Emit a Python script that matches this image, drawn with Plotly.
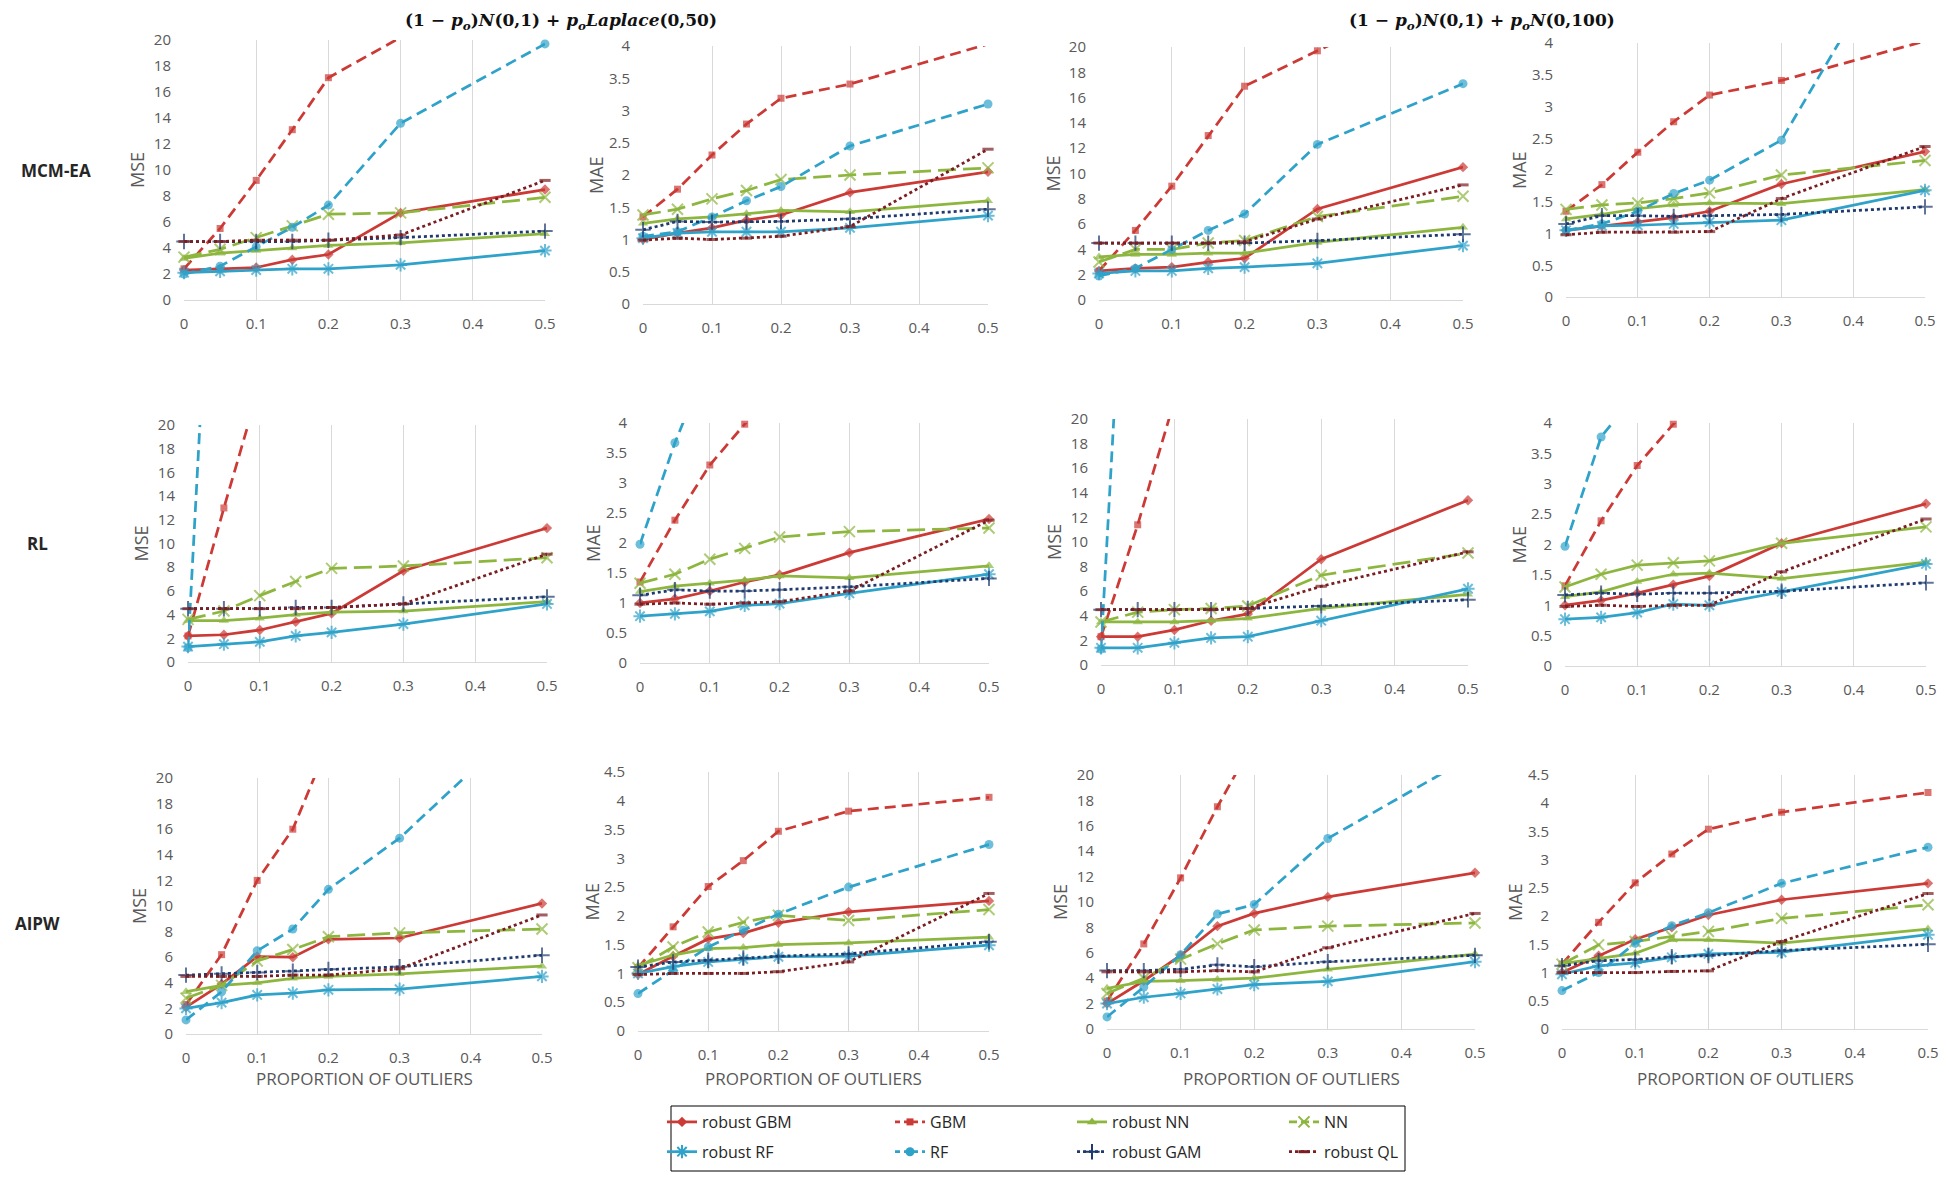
import plotly.graph_objects as go

# ---------------- data ----------------
X = [0, 0.05, 0.1, 0.15, 0.2, 0.3, 0.5]
X_TICKS = [0, 0.1, 0.2, 0.3, 0.4, 0.5]
X_TICK_TEXT = ["0", "0.1", "0.2", "0.3", "0.4", "0.5"]
SERIES = ["robust GBM", "GBM", "robust NN", "NN", "robust RF", "RF", "robust GAM", "robust QL"]
ROW_LABELS = ["MCM-EA", "RL", "AIPW"]
COL_TITLES = [
    "<b>(1 − <i>p<sub>o</sub></i>)<i>N</i>(0,1) + <i>p<sub>o</sub>Laplace</i>(0,50)</b>",
    "<b>(1 − <i>p<sub>o</sub></i>)<i>N</i>(0,1) + <i>p<sub>o</sub>N</i>(0,100)</b>",
]
X_TITLE = "PROPORTION OF OUTLIERS"

mse_lap_mcm = {
    "robust GBM": [2.3, 2.4, 2.5, 3.1, 3.5, 6.7, 8.5],
    "GBM":        [2.4, 5.5, 9.2, 13.1, 17.1, 20.2, 24],
    "robust NN":  [3.2, 3.6, 3.8, 4.0, 4.2, 4.4, 5.1],
    "NN":         [3.3, 3.9, 4.8, 5.7, 6.6, 6.7, 7.9],
    "robust RF":  [2.1, 2.2, 2.3, 2.4, 2.4, 2.7, 3.8],
    "RF":         [2.0, 2.6, 4.1, 5.6, 7.3, 13.6, 19.7],
    "robust GAM": [4.5, 4.5, 4.5, 4.5, 4.6, 4.8, 5.3],
    "robust QL":  [4.5, 4.5, 4.6, 4.6, 4.6, 5.0, 9.2],
}
mae_lap_mcm = {
    "robust GBM": [1.0, 1.1, 1.18, 1.3, 1.38, 1.73, 2.05],
    "GBM":        [1.35, 1.78, 2.31, 2.79, 3.19, 3.41, 4.03],
    "robust NN":  [1.25, 1.32, 1.35, 1.4, 1.45, 1.43, 1.6],
    "NN":         [1.38, 1.47, 1.63, 1.76, 1.93, 2.0, 2.11],
    "robust RF":  [1.02, 1.1, 1.12, 1.12, 1.12, 1.18, 1.37],
    "RF":         [1.05, 1.12, 1.35, 1.6, 1.82, 2.45, 3.1],
    "robust GAM": [1.15, 1.28, 1.27, 1.27, 1.28, 1.32, 1.47],
    "robust QL":  [0.99, 1.02, 1.0, 1.02, 1.05, 1.2, 2.4],
}
mse_n100_mcm = {
    "robust GBM": [2.3, 2.5, 2.6, 3.0, 3.3, 7.2, 10.5],
    "GBM":        [2.3, 5.5, 9.0, 13.0, 16.9, 19.7, 25],
    "robust NN":  [3.4, 3.6, 3.6, 3.7, 3.7, 4.55, 5.75],
    "NN":         [3.0, 4.0, 4.0, 4.5, 4.7, 6.6, 8.2],
    "robust RF":  [2.1, 2.3, 2.3, 2.5, 2.6, 2.9, 4.3],
    "RF":         [1.9, 2.5, 4.0, 5.5, 6.8, 12.3, 17.1],
    "robust GAM": [4.5, 4.5, 4.5, 4.5, 4.5, 4.7, 5.2],
    "robust QL":  [4.5, 4.5, 4.5, 4.5, 4.6, 6.4, 9.1],
}
mae_n100_mcm = {
    "robust GBM": [1.05, 1.12, 1.18, 1.25, 1.35, 1.78, 2.29],
    "GBM":        [1.35, 1.77, 2.28, 2.76, 3.18, 3.41, 4.03],
    "robust NN":  [1.23, 1.3, 1.39, 1.45, 1.48, 1.47, 1.69],
    "NN":         [1.38, 1.45, 1.48, 1.55, 1.64, 1.92, 2.15],
    "robust RF":  [1.05, 1.12, 1.13, 1.15, 1.18, 1.21, 1.68],
    "RF":         [1.05, 1.15, 1.35, 1.63, 1.84, 2.47, 6.3],
    "robust GAM": [1.15, 1.28, 1.28, 1.27, 1.28, 1.3, 1.42],
    "robust QL":  [0.98, 1.02, 1.02, 1.02, 1.03, 1.55, 2.37],
}
mse_lap_rl = {
    "robust GBM": [2.2, 2.3, 2.7, 3.4, 4.1, 7.7, 11.3],
    "GBM":        [2.2, 13.0, 23.4, 30, 35, 40, 50],
    "robust NN":  [3.5, 3.5, 3.7, 4.0, 4.2, 4.3, 5.1],
    "NN":         [3.6, 4.3, 5.6, 6.8, 7.9, 8.1, 8.8],
    "robust RF":  [1.3, 1.5, 1.7, 2.2, 2.5, 3.2, 4.9],
    "RF":         [1.2, 58, 75, 85, 95, 105, 120],
    "robust GAM": [4.5, 4.5, 4.5, 4.6, 4.6, 4.9, 5.5],
    "robust QL":  [4.5, 4.5, 4.5, 4.5, 4.6, 4.9, 9.1],
}
mae_lap_rl = {
    "robust GBM": [1.0, 1.07, 1.2, 1.35, 1.47, 1.84, 2.4],
    "GBM":        [1.35, 2.38, 3.3, 3.98, 4.6, 5.3, 6.5],
    "robust NN":  [1.19, 1.28, 1.33, 1.38, 1.45, 1.42, 1.62],
    "NN":         [1.33, 1.48, 1.73, 1.91, 2.1, 2.19, 2.25],
    "robust RF":  [0.78, 0.82, 0.86, 0.96, 0.99, 1.16, 1.48],
    "RF":         [1.98, 3.67, 5.1, 6.0, 7.0, 8.0, 10.0],
    "robust GAM": [1.13, 1.22, 1.2, 1.2, 1.22, 1.27, 1.41],
    "robust QL":  [0.98, 1.0, 0.98, 1.0, 1.02, 1.2, 2.38],
}
mse_n100_rl = {
    "robust GBM": [2.3, 2.3, 2.85, 3.6, 4.15, 8.6, 13.4],
    "GBM":        [2.3, 11.4, 21.5, 28, 33, 38, 45],
    "robust NN":  [3.5, 3.5, 3.5, 3.6, 3.8, 4.6, 5.75],
    "NN":         [3.5, 4.3, 4.5, 4.6, 4.8, 7.3, 9.1],
    "robust RF":  [1.4, 1.4, 1.8, 2.2, 2.3, 3.6, 6.2],
    "RF":         [1.3, 55, 75, 85, 95, 105, 120],
    "robust GAM": [4.5, 4.5, 4.5, 4.5, 4.6, 4.8, 5.3],
    "robust QL":  [4.5, 4.5, 4.5, 4.5, 4.6, 6.4, 9.2],
}
mae_n100_rl = {
    "robust GBM": [1.0, 1.08, 1.2, 1.34, 1.48, 2.02, 2.67],
    "GBM":        [1.32, 2.39, 3.3, 3.98, 4.6, 5.3, 6.5],
    "robust NN":  [1.14, 1.22, 1.39, 1.51, 1.53, 1.44, 1.71],
    "NN":         [1.3, 1.51, 1.66, 1.7, 1.73, 2.02, 2.29],
    "robust RF":  [0.77, 0.8, 0.88, 1.02, 1.0, 1.22, 1.68],
    "RF":         [1.97, 3.77, 4.5, 5.5, 6.5, 7.5, 9.0],
    "robust GAM": [1.17, 1.2, 1.18, 1.2, 1.2, 1.23, 1.37],
    "robust QL":  [0.98, 1.0, 0.98, 1.0, 1.0, 1.55, 2.42],
}
mse_lap_aipw = {
    "robust GBM": [2.1, 3.9, 6.05, 6.0, 7.4, 7.5, 10.2],
    "GBM":        [2.3, 6.2, 12.0, 16.0, 22.7, 27, 35],
    "robust NN":  [3.3, 3.8, 4.0, 4.35, 4.5, 4.7, 5.3],
    "NN":         [2.8, 3.8, 5.7, 6.6, 7.6, 7.9, 8.2],
    "robust RF":  [2.0, 2.45, 3.05, 3.2, 3.45, 3.5, 4.5],
    "RF":         [1.1, 3.3, 6.5, 8.2, 11.3, 15.3, 25.7],
    "robust GAM": [4.6, 4.7, 4.8, 4.9, 5.05, 5.25, 6.15],
    "robust QL":  [4.5, 4.5, 4.5, 4.6, 4.6, 5.1, 9.3],
}
mae_lap_aipw = {
    "robust GBM": [0.98, 1.3, 1.6, 1.7, 1.88, 2.07, 2.26],
    "GBM":        [1.1, 1.81, 2.51, 2.96, 3.47, 3.82, 4.06],
    "robust NN":  [1.14, 1.32, 1.43, 1.45, 1.5, 1.53, 1.63],
    "NN":         [1.1, 1.46, 1.72, 1.89, 2.01, 1.92, 2.11],
    "robust RF":  [1.0, 1.12, 1.2, 1.25, 1.29, 1.3, 1.49],
    "RF":         [0.65, 1.05, 1.46, 1.75, 2.03, 2.5, 3.24],
    "robust GAM": [1.11, 1.2, 1.23, 1.27, 1.3, 1.34, 1.55],
    "robust QL":  [0.98, 1.0, 1.0, 1.0, 1.03, 1.2, 2.39],
}
mse_n100_aipw = {
    "robust GBM": [2.0, 3.8, 5.8, 8.1, 9.1, 10.4, 12.3],
    "GBM":        [2.2, 6.7, 11.9, 17.5, 22.7, 27, 35],
    "robust NN":  [3.2, 3.75, 3.8, 3.9, 4.0, 4.7, 5.9],
    "NN":         [2.8, 4.0, 5.5, 6.7, 7.8, 8.1, 8.35],
    "robust RF":  [2.0, 2.5, 2.8, 3.15, 3.5, 3.75, 5.3],
    "RF":         [0.95, 3.3, 5.85, 9.05, 9.8, 15.0, 21.6],
    "robust GAM": [4.6, 4.6, 4.7, 5.05, 4.9, 5.3, 5.8],
    "robust QL":  [4.5, 4.5, 4.5, 4.6, 4.5, 6.4, 9.1],
}
mae_n100_aipw = {
    "robust GBM": [1.0, 1.3, 1.59, 1.8, 2.02, 2.29, 2.58],
    "GBM":        [1.15, 1.89, 2.59, 3.1, 3.54, 3.84, 4.19],
    "robust NN":  [1.16, 1.25, 1.34, 1.58, 1.58, 1.52, 1.77],
    "NN":         [1.15, 1.49, 1.55, 1.64, 1.73, 1.96, 2.2],
    "robust RF":  [0.97, 1.12, 1.17, 1.27, 1.33, 1.36, 1.67],
    "RF":         [0.68, 1.0, 1.52, 1.83, 2.06, 2.58, 3.22],
    "robust GAM": [1.12, 1.21, 1.23, 1.28, 1.3, 1.39, 1.5],
    "robust QL":  [1.0, 1.0, 1.0, 1.02, 1.03, 1.55, 2.4],
}

# panel list: (data, y max, y step, y title)
PANELS = [
    (mse_lap_mcm, 20, 2, "MSE"), (mae_lap_mcm, 4, 0.5, "MAE"),
    (mse_n100_mcm, 20, 2, "MSE"), (mae_n100_mcm, 4, 0.5, "MAE"),
    (mse_lap_rl, 20, 2, "MSE"), (mae_lap_rl, 4, 0.5, "MAE"),
    (mse_n100_rl, 20, 2, "MSE"), (mae_n100_rl, 4, 0.5, "MAE"),
    (mse_lap_aipw, 20, 2, "MSE"), (mae_lap_aipw, 4.5, 0.5, "MAE"),
    (mse_n100_aipw, 20, 2, "MSE"), (mae_n100_aipw, 4.5, 0.5, "MAE"),
]

# ---------------- layout / style ----------------
# page has an 8px body margin; the figure is sized to fit the window with it
OFF = 8
W, H = 1949 - OFF, 1179 - OFF


def fx(px):
    return (px - OFF) / W


def fy(py):
    return 1 - (py - OFF) / H


# plot-area boxes in window pixels: (left, right, top, bottom)
BOXES = [
    (184, 545, 40, 300), (643, 988, 46, 304), (1099, 1463, 47, 300), (1566, 1925, 43, 297),
    (188, 547, 425, 662), (640, 989, 423, 663), (1101, 1468, 419, 665), (1565, 1926, 423, 666),
    (186, 542, 778, 1034), (638, 989, 772, 1031), (1107, 1475, 775, 1029), (1562, 1928, 775, 1029),
]

RED = "#CC3A36"
GREEN = "#8DB63F"
BLUE = "#2FA2CA"
NAVY = "#1F3A6E"
DARKRED = "#7A1E22"
GRID = "#D9D9D9"
TXT = "#595959"
FONT = "Open Sans"
SHORT_DASH = "11px,6px"
LONG_DASH = "18px,7px"

STYLE = {
    "robust GBM": dict(color=RED, dash="solid", ldash="solid", symbol="diamond", size=8, lw=0),
    "GBM":        dict(color=RED, dash=SHORT_DASH, ldash="5px,4px", symbol="square", size=7, lw=0),
    "robust NN":  dict(color=GREEN, dash="solid", ldash="solid", symbol="triangle-up", size=9, lw=0),
    "NN":         dict(color=GREEN, dash=LONG_DASH, ldash="8px,4px", symbol="x-thin", size=11, lw=2),
    "robust RF":  dict(color=BLUE, dash="solid", ldash="solid", symbol="asterisk", size=11, lw=2),
    "RF":         dict(color=BLUE, dash=SHORT_DASH, ldash="5px,4px", symbol="circle", size=9, lw=0),
    "robust GAM": dict(color=NAVY, dash="dot", ldash="dot", symbol="cross-thin", size=11, lw=2),
    "robust QL":  dict(color=DARKRED, dash="dot", ldash="dot", symbol="line-ew", size=8, lw=3),
}
# per-panel dash override (panel index, series) -> dash
DASH_OVERRIDE = {(7, "NN"): "solid"}

LEGEND_OF = {
    "robust GBM": "legend", "robust RF": "legend",
    "GBM": "legend2", "RF": "legend2",
    "robust NN": "legend3", "robust GAM": "legend3",
    "NN": "legend4", "robust QL": "legend4",
}
LEGEND_TEXT_X = {"legend": 702, "legend2": 930, "legend3": 1112, "legend4": 1324}

fig = go.Figure()
annotations = []

for i, (data, ymax, ystep, ytitle) in enumerate(PANELS):
    ax = "" if i == 0 else str(i + 1)
    left, right, top, bottom = BOXES[i]
    fig.update_layout(**{
        f"xaxis{ax}": dict(
            domain=[fx(left), fx(right)], anchor=f"y{ax}", range=[0, 0.5],
            tickmode="array", tickvals=X_TICKS, ticktext=X_TICK_TEXT,
            showgrid=True, gridcolor=GRID, gridwidth=1.3,
            showline=True, linecolor=GRID, linewidth=1.3,
            zeroline=False, ticks="", ticklabelstandoff=10,
            tickfont=dict(family=FONT, size=15, color=TXT), fixedrange=True,
        ),
        f"yaxis{ax}": dict(
            domain=[fy(bottom), fy(top)], anchor=f"x{ax}", range=[0, ymax],
            tick0=0, dtick=ystep, showgrid=False, zeroline=False, showline=False,
            ticks="", ticklabelstandoff=12,
            tickfont=dict(family=FONT, size=15, color=TXT), fixedrange=True,
        ),
    })
    for s in SERIES:
        st = STYLE[s]
        vals = data[s]
        sizes = [st["size"] if v <= ymax else 0 for v in vals]
        fig.add_trace(go.Scatter(
            x=X, y=vals, mode="lines+markers", name=s, showlegend=False,
            legendgroup=s, xaxis=f"x{ax}", yaxis=f"y{ax}", cliponaxis=False,
            line=dict(color=st["color"], width=2.75, dash=DASH_OVERRIDE.get((i, s), st["dash"])),
            marker=dict(symbol=st["symbol"], size=sizes, color=st["color"],
                        line=dict(color=st["color"], width=st["lw"])),
            hoverinfo="x+y+name",
        ))
    # y-axis title
    annotations.append(dict(
        text=ytitle, textangle=-90, xref="paper", yref="paper",
        x=fx(left - 47), y=fy((top + bottom) / 2), xanchor="center", yanchor="middle",
        showarrow=False, font=dict(family=FONT, size=18, color=TXT),
    ))
    # x-axis title on bottom row
    if i >= 8:
        annotations.append(dict(
            text=X_TITLE, xref="paper", yref="paper",
            x=fx((left + right) / 2), y=fy(1078), xanchor="center", yanchor="middle",
            showarrow=False, font=dict(family=FONT, size=17, color=TXT),
        ))

# legend-only traces
for s in SERIES:
    st = STYLE[s]
    fig.add_trace(go.Scatter(
        x=[None], y=[None], mode="lines+markers", name=s, showlegend=True,
        legend=LEGEND_OF[s], legendgroup=s, xaxis="x", yaxis="y",
        line=dict(color=st["color"], width=2.75, dash=st["ldash"]),
        marker=dict(symbol=st["symbol"], size=st["size"], color=st["color"],
                    line=dict(color=st["color"], width=st["lw"])),
    ))

legend_common = dict(
    orientation="v", xanchor="left", yanchor="top", y=fy(1105),
    bgcolor="rgba(0,0,0,0)", borderwidth=0, traceorder="grouped", tracegroupgap=6,
    font=dict(family=FONT, size=16, color="#262626"),
)
legends = {}
for key, tx in LEGEND_TEXT_X.items():
    legends[key] = dict(legend_common, x=fx(tx - 40))

# column titles (kept just inside the top edge of the figure)
for title, cx in zip(COL_TITLES, [561, 1482]):
    annotations.append(dict(text=title, xref="paper", yref="paper", x=fx(cx), y=1.0,
                            xanchor="center", yanchor="top", showarrow=False,
                            font=dict(family="DejaVu Serif", size=17, color="#111")))
# row labels
for lab, (cx, cy) in zip(ROW_LABELS, [(56, 170), (37, 543), (37, 923)]):
    annotations.append(dict(text=f"<b>{lab}</b>", xref="paper", yref="paper", x=fx(cx), y=fy(cy),
                            xanchor="center", yanchor="middle", showarrow=False,
                            font=dict(family=FONT, size=17, color="#262626")))

fig.update_layout(
    width=W, height=H, margin=dict(l=0, r=0, t=0, b=0, autoexpand=False),
    paper_bgcolor="white", plot_bgcolor="white",
    annotations=annotations, showlegend=True,
    shapes=[dict(type="rect", xref="paper", yref="paper",
                 x0=fx(671), x1=fx(1405), y0=fy(1171), y1=fy(1106),
                 line=dict(color="black", width=1), fillcolor="rgba(0,0,0,0)")],
    **legends,
)

fig.write_html("out.html")
